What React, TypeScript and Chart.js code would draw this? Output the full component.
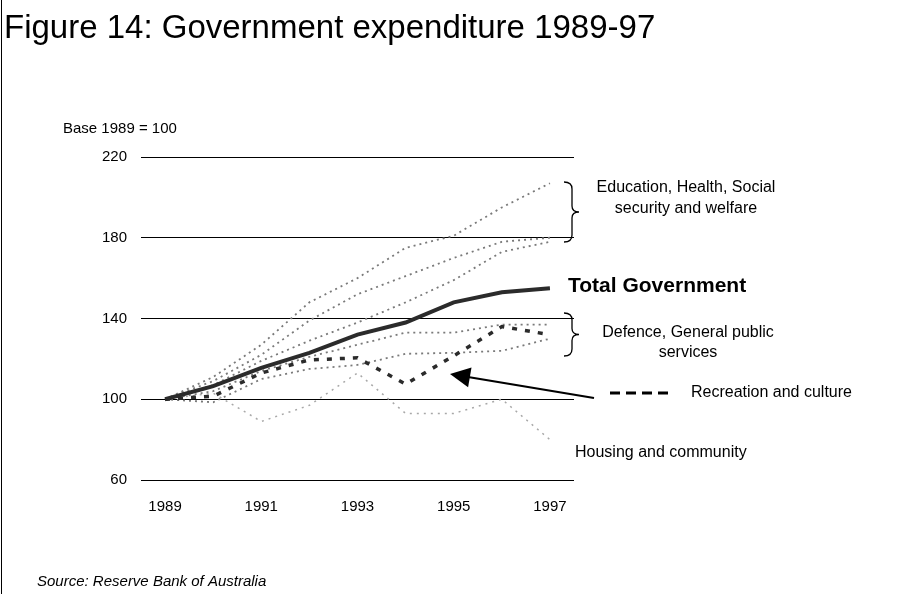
import React, { useEffect, useRef } from "react";
import { Chart, registerables } from "chart.js";

Chart.register(...registerables);

const years = ["1989", "1990", "1991", "1992", "1993", "1994", "1995", "1996", "1997"];
const shownYears = ["1989", "1991", "1993", "1995", "1997"];
const yTicks = [60, 100, 140, 180, 220];

const totalGovernment = [100, 106.5, 115.5, 123, 132, 138, 148, 153, 155];
const recreationCulture = [100, 101.5, 113, 119.5, 120.5, 107.5, 121.5, 136, 132];
const educationA = [100, 111, 127, 148, 160, 175, 181, 195, 207];
const healthB = [100, 109, 122, 139, 152, 161, 170, 178, 180];
const socialC = [100, 107, 119, 129, 138, 148, 159, 173, 178];
const defence = [100, 104, 114, 121, 127, 133, 133, 137, 137];
const generalPublic = [100, 98.5, 110, 115, 117, 122.5, 123, 124, 130];
const housingCommunity = [100, 103, 89, 97, 113, 93, 93, 100, 80];

const FONT = "'Liberation Sans', Arial, Helvetica, sans-serif";

const annotationPlugin = {
  id: "annotations",
  afterDraw(chart: any) {
    const ctx = chart.ctx as CanvasRenderingContext2D;
    ctx.save();
    ctx.fillStyle = "#000";
    ctx.strokeStyle = "#000";
    // left frame line
    ctx.fillRect(1, 0, 1, 594);

    ctx.textBaseline = "alphabetic";
    ctx.textAlign = "left";
    ctx.font = `33px ${FONT}`;
    ctx.fillText("Figure 14: Government expenditure 1989-97", 4, 38);

    ctx.font = `15px ${FONT}`;
    ctx.fillText("Base 1989 = 100", 63, 133);

    ctx.font = `16px ${FONT}`;
    ctx.textAlign = "center";
    ctx.fillText("Education, Health, Social", 686, 192);
    ctx.fillText("security and welfare", 686, 213);
    ctx.fillText("Defence, General public", 688, 337);
    ctx.fillText("services", 688, 357);

    ctx.textAlign = "left";
    ctx.fillText("Recreation and culture", 691, 397);
    ctx.fillText("Housing and community", 575, 457);

    ctx.font = `bold 21px ${FONT}`;
    ctx.fillText("Total Government", 568, 292);

    ctx.font = `italic 15px ${FONT}`;
    ctx.fillText("Source: Reserve Bank of Australia", 37, 586);

    // legend dash for recreation
    ctx.lineWidth = 3;
    ctx.setLineDash([10, 6]);
    ctx.beginPath();
    ctx.moveTo(610, 393);
    ctx.lineTo(672, 393);
    ctx.stroke();
    ctx.setLineDash([]);

    // arrow
    ctx.lineWidth = 2;
    ctx.beginPath();
    ctx.moveTo(594, 398);
    ctx.lineTo(468, 377);
    ctx.stroke();
    ctx.beginPath();
    ctx.moveTo(450, 374);
    ctx.lineTo(471.5, 367.4);
    ctx.lineTo(468.1, 387.2);
    ctx.closePath();
    ctx.fill();

    // braces
    const brace = (top: number, bottom: number) => {
      const mid = (top + bottom) / 2;
      const x0 = 564;
      const x1 = 572;
      const x2 = 579;
      ctx.lineWidth = 1.3;
      ctx.beginPath();
      ctx.moveTo(x0, top);
      ctx.quadraticCurveTo(x1, top, x1, top + 7);
      ctx.lineTo(x1, mid - 6);
      ctx.quadraticCurveTo(x1, mid, x2, mid);
      ctx.quadraticCurveTo(x1, mid, x1, mid + 6);
      ctx.lineTo(x1, bottom - 7);
      ctx.quadraticCurveTo(x1, bottom, x0, bottom);
      ctx.stroke();
    };
    brace(182, 242);
    brace(313, 356);
    ctx.restore();
  },
};

export default function App() {
  const ref = useRef<HTMLCanvasElement | null>(null);
  useEffect(() => {
    document.body.style.margin = "0";
    const canvas = ref.current;
    if (!canvas) return;
    const dotted = (label: string, data: number[], color: string, width: number, dash: number[]) => ({
      label,
      data,
      borderColor: color,
      borderWidth: width,
      borderDash: dash,
      pointRadius: 0,
      tension: 0,
      fill: false,
    });
    const chart = new Chart(canvas, {
      type: "line",
      data: {
        labels: years,
        datasets: [
          { label: "Total Government", data: totalGovernment, borderColor: "#2b2b2b", borderWidth: 4, pointRadius: 0, tension: 0, fill: false },
          { label: "Recreation and culture", data: recreationCulture, borderColor: "#2b2b2b", borderWidth: 3.5, borderDash: [5, 8], pointRadius: 0, tension: 0, fill: false },
          dotted("Education", educationA, "#7a7a7a", 1.8, [2, 4]),
          dotted("Health", healthB, "#7a7a7a", 1.8, [2, 4]),
          dotted("Social security and welfare", socialC, "#7a7a7a", 1.8, [2, 4]),
          dotted("Defence", defence, "#7a7a7a", 1.8, [2, 4]),
          dotted("General public services", generalPublic, "#7a7a7a", 1.8, [2, 4]),
          dotted("Housing and community", housingCommunity, "#a8a8a8", 1.5, [2, 5]),
        ],
      },
      options: {
        responsive: false,
        animation: false,
        devicePixelRatio: 1,
        layout: { padding: { top: 157, right: 350, left: 0, bottom: 0 } },
        plugins: { legend: { display: false }, tooltip: { enabled: false } },
        scales: {
          x: {
            type: "category",
            offset: true,
            grid: { display: false, drawTicks: false },
            border: { display: false },
            ticks: {
              autoSkip: false,
              maxRotation: 0,
              padding: 18,
              color: "#000",
              font: { family: FONT, size: 15 },
              callback: (_v: any, i: number) => (shownYears.includes(years[i]) ? years[i] : ""),
            },
            afterFit: (s: any) => {
              s.height = 114;
            },
          },
          y: {
            min: 60,
            max: 220,
            afterBuildTicks: (s: any) => {
              s.ticks = yTicks.map((v) => ({ value: v }));
            },
            grid: { color: "#000", lineWidth: 1, drawTicks: false },
            border: { display: false },
            ticks: {
              padding: 14,
              color: "#000",
              font: { family: FONT, size: 15 },
            },
            afterFit: (s: any) => {
              s.width = 141;
            },
          },
        },
      },
      plugins: [annotationPlugin],
    });
    return () => chart.destroy();
  }, []);
  return (
    <div style={{ width: 924, height: 594, position: "relative", background: "#fff" }}>
      <canvas ref={ref} width={924} height={594} style={{ width: 924, height: 594, display: "block" }} />
    </div>
  );
}
